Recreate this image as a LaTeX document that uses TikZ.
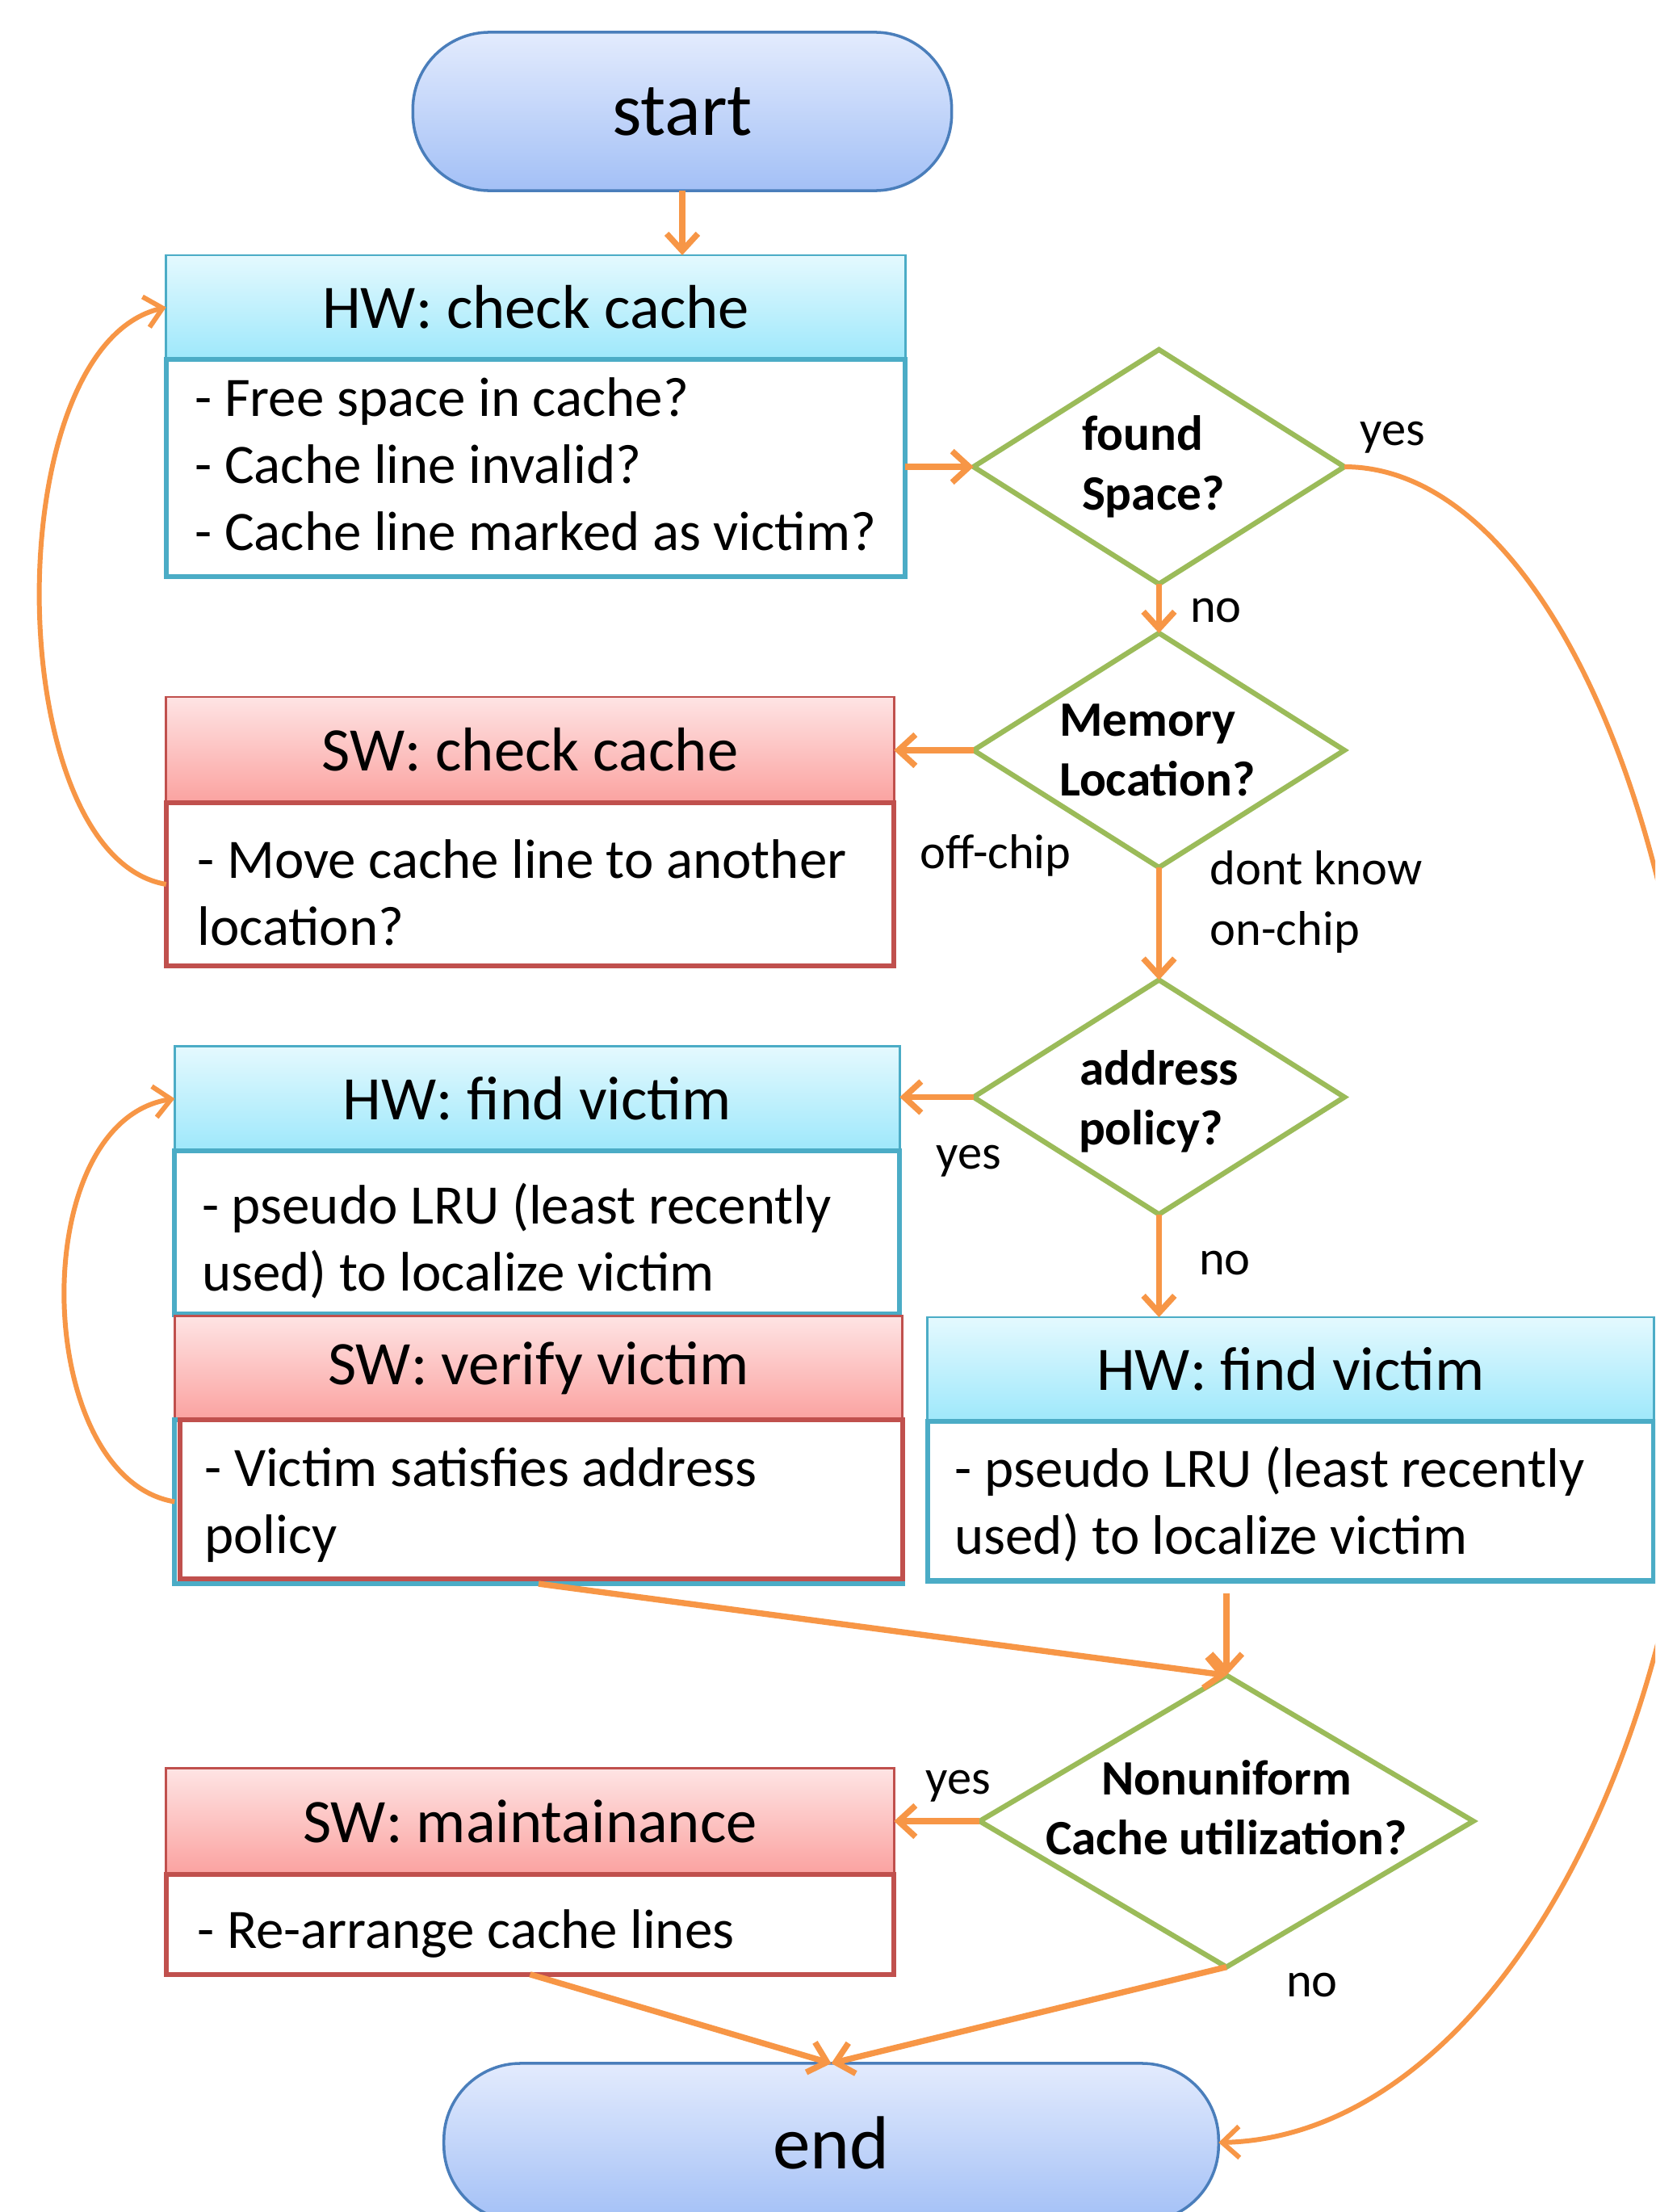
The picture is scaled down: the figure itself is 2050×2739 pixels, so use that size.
\documentclass[tikz,border=0pt]{standalone}
\usepackage{fontspec}
\setmainfont{Carlito}
\usetikzlibrary{shapes.geometric,arrows.meta,calc}
\definecolor{termline}{RGB}{74,126,187}
\definecolor{termtop}{RGB}{227,235,253}
\definecolor{termbot}{RGB}{163,192,246}
\definecolor{hwline}{RGB}{75,172,198}
\definecolor{hwtop}{RGB}{228,249,254}
\definecolor{hwbot}{RGB}{158,232,251}
\definecolor{swline}{RGB}{192,80,77}
\definecolor{swtop}{RGB}{254,228,228}
\definecolor{swbot}{RGB}{251,162,160}
\definecolor{decline}{RGB}{155,187,89}
\definecolor{flowc}{RGB}{247,150,70}
\tikzset{
  base/.style={inner sep=0pt, outer sep=0pt},
  term/.style={base, draw=termline, line width=1pt, top color=termtop, bottom color=termbot,
    rounded corners=0.95cm, font=\fontsize{26.5}{30}\selectfont},
  hwhead/.style={base, draw=hwline, line width=0.8pt, top color=hwtop, bottom color=hwbot,
    font=\fontsize{21.8}{26}\selectfont},
  swhead/.style={base, draw=swline, line width=0.8pt, top color=swtop, bottom color=swbot,
    font=\fontsize{21.8}{26}\selectfont},
  hwbody/.style={base, draw=hwline, line width=1.8pt, fill=white},
  swbody/.style={base, draw=swline, line width=1.8pt, fill=white},
  bodytext/.style={inner sep=0pt, align=left, anchor=west, font=\fontsize{19.6}{23.6}\selectfont},
  decision/.style={base, diamond, draw=decline, line width=1.8pt, fill=white},
  dtext/.style={inner sep=0pt, align=center, font=\fontsize{17.4}{21}\selectfont\bfseries},
  lbl/.style={inner sep=0pt, font=\fontsize{17.2}{21.4}\selectfont},
  flow/.style={draw=flowc, line width=2.1pt, -{Straight Barb[length=6pt,width=11pt]}},
  flowthin/.style={draw=flowc, line width=1.7pt, -{Straight Barb[length=6pt,width=11pt]}}
}
\begin{document}
\begin{tikzpicture}[x=0.01cm,y=-0.01cm]
\useasboundingbox (0,0) rectangle (2050,2739);
\clip (0,0) rectangle (2050,2739);
\fill[white] (0,0) rectangle (2050,2739);

% terminals
\node[term, minimum width=6.67cm, minimum height=1.96cm] (start) at (845,138) {start};
\node[term, minimum width=9.59cm, minimum height=1.96cm] (end) at (1029.5,2653) {end};

% HW: check cache
\node[hwhead, minimum width=9.15cm, minimum height=1.29cm] (hw1h) at (663.5,380.5) {HW: check cache};
\node[hwbody, minimum width=9.15cm, minimum height=2.69cm] (hw1b) at (663.5,579.5) {};
\node[bodytext] (hw1t) at ([xshift=0.35cm,yshift=0.05cm]hw1b.west) {- Free space in cache?\\- Cache line invalid?\\- Cache line marked as victim?};

% SW: check cache
\node[swhead, minimum width=9.01cm, minimum height=1.31cm] (sw1h) at (656.5,928.5) {SW: check cache};
\node[swbody, minimum width=9.01cm, minimum height=2.02cm] (sw1b) at (656.5,1095) {};
\node[bodytext] (sw1t) at ([xshift=0.38cm,yshift=-0.10cm]sw1b.west) {- Move cache line to another\\location?};

% HW: find victim (left)
\node[hwhead, minimum width=8.975cm, minimum height=1.29cm] (hw2h) at (665.3,1360.3) {HW: find victim};
\node[hwbody, minimum width=8.975cm, minimum height=2.026cm] (hw2b) at (665.3,1526.2) {};
\node[bodytext] (hw2t) at ([xshift=0.33cm,yshift=-0.10cm]hw2b.west) {- pseudo LRU (least recently\\used) to localize victim};

% SW: verify victim
\node[swhead, minimum width=9.01cm, minimum height=1.29cm] (sw2h) at (667,1693.7) {SW: verify victim};
\node[hwbody, minimum width=9.01cm, minimum height=2.03cm] (frame) at (667,1859.5) {};
\node[swbody, minimum width=8.946cm, minimum height=1.97cm] (sw2b) at (670.3,1856.5) {};
\node[bodytext] (sw2t) at ([xshift=0.30cm,yshift=-0.07cm]sw2b.west) {- Victim satisfies address\\policy};

% HW: find victim (right)
\node[hwhead, minimum width=8.99cm, minimum height=1.29cm] (hw3h) at (1598.5,1695.5) {HW: find victim};
\node[hwbody, minimum width=8.99cm, minimum height=1.975cm] (hw3b) at (1598.5,1858.7) {};
\node[bodytext] (hw3t) at ([xshift=0.33cm,yshift=-0.035cm]hw3b.west) {- pseudo LRU (least recently\\used) to localize victim};

% SW: maintainance
\node[swhead, minimum width=9.01cm, minimum height=1.31cm] (sw3h) at (656.5,2255.2) {SW: maintainance};
\node[swbody, minimum width=9.01cm, minimum height=1.24cm] (sw3b) at (656.5,2382.7) {};
\node[bodytext] (sw3t) at ([xshift=0.38cm,yshift=-0.12cm]sw3b.west) {- Re-arrange cache lines};

% decisions
\node[decision, minimum width=4.59cm, minimum height=2.90cm,
  label={[dtext, align=left, xshift=-0.07cm]center:{found\\Space?}}] (found) at (1435.4,578) {};
\node[decision, minimum width=4.59cm, minimum height=2.90cm,
  label={[dtext, align=left, xshift=-0.02cm]center:{Memory\\Location?}}] (mem) at (1435.4,929) {};
\node[decision, minimum width=4.59cm, minimum height=2.90cm,
  label={[dtext, xshift=-0.10cm, yshift=-0.05cm]center:{\hspace*{0.21cm}address\\policy?}}] (addr) at (1435.4,1358.5) {};
\node[decision, minimum width=6.11cm, minimum height=3.61cm,
  label={[dtext, yshift=0.17cm]center:{Nonuniform\\Cache utilization?}}] (nonu) at (1519,2255) {};

% connectors
\draw[flow] (start.south) -- (start.south |- hw1h.north);
\draw[flow] (found.west -| hw1b.east) -- (found.west);
\draw[flow] (found.south) -- (mem.north);
\draw[flow] (mem.west) -- (mem.west -| sw1h.east);
\draw[flow] (mem.south) -- (addr.north);
\draw[flow] (addr.west) -- (addr.west -| hw2h.east);
\draw[flow] (addr.south) -- (addr.south |- hw3h.north);
\draw[flow] ($(nonu.north |- hw3b.south)+(0,15)$) -- (nonu.north);
\draw[flow] (frame.south) -- (nonu.north);
\draw[flow] (nonu.west) -- (nonu.west -| sw3h.east);
\draw[flow] (nonu.south) -- (end.north);
\draw[flow] (sw3b.south) -- (end.north);
\draw[flowthin] (sw1b.west) .. controls (0,1060) and (-5,430) .. (hw1h.west);
\draw[flowthin] (frame.west) .. controls (40,1830) and (30,1390) .. (hw2h.west);
\draw[flowthin] (found.east) .. controls (1911,578) and (2110,1028) .. (2110,1580)
  .. controls (2110,2172) and (1841,2645) .. (end.east);

% labels
\node[lbl] (lyes1) at (1725,542) {yes};
\node[lbl] (lno1) at (1506,756) {no};
\node[lbl] (loff) at (1233,1059) {off-chip};
\node[lbl, align=left, anchor=west] (ldk) at (1498,1117) {dont know\\on-chip};
\node[lbl] (lyes2) at (1200,1438) {yes};
\node[lbl] (lno2) at (1517,1564) {no};
\node[lbl] (lyes3) at (1187,2212) {yes};
\node[lbl] (lno3) at (1625,2458) {no};
\end{tikzpicture}
\end{document}
